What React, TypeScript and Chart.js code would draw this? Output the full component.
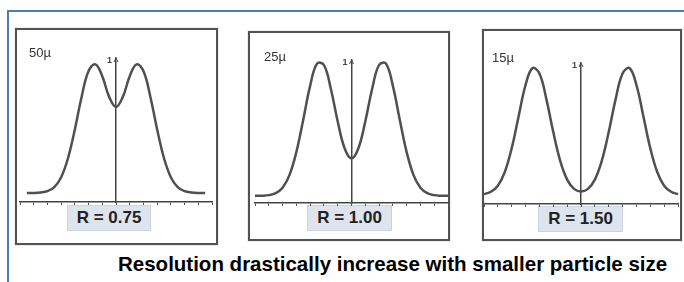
import React, { useEffect, useRef } from 'react';
import { Chart, registerables } from 'chart.js';

Chart.register(...registerables);
Chart.defaults.font.family = '"Liberation Sans", Arial, sans-serif';

// ---- data ----
const xNarrow = [-6.5, -6, -5.5, -5, -4.5, -4, -3.5, -3, -2.5, -2, -1.5, -1, -0.5, 0, 0.5, 1, 1.5, 2, 2.5, 3, 3.5, 4, 4.5, 5, 5.5, 6, 6.5];
const xWide = [-7, -6.5, -6, -5.5, -5, -4.5, -4, -3.5, -3, -2.5, -2, -1.5, -1, -0.5, 0, 0.5, 1, 1.5, 2, 2.5, 3, 3.5, 4, 4.5, 5, 5.5, 6, 6.5, 7];

const signal50 = [0.063, 0.063, 0.066, 0.075, 0.103, 0.172, 0.304, 0.504, 0.733, 0.909, 0.956, 0.874, 0.73, 0.66, 0.73, 0.874, 0.956, 0.909, 0.733, 0.504, 0.304, 0.172, 0.103, 0.075, 0.066, 0.063, 0.063];
const signal25 = [0.05, 0.051, 0.055, 0.069, 0.107, 0.195, 0.356, 0.583, 0.819, 0.975, 0.965, 0.799, 0.57, 0.383, 0.312, 0.383, 0.57, 0.799, 0.965, 0.975, 0.819, 0.583, 0.356, 0.195, 0.107, 0.069, 0.055, 0.051, 0.05];
const signal15 = [0.07, 0.087, 0.13, 0.227, 0.396, 0.623, 0.844, 0.964, 0.925, 0.744, 0.51, 0.306, 0.173, 0.107, 0.089, 0.107, 0.173, 0.306, 0.51, 0.744, 0.925, 0.964, 0.844, 0.623, 0.396, 0.227, 0.13, 0.087, 0.07];

const panelLabels = ['50µ', '25µ', '15µ'];
const resolutionLabels = ['R = 0.75', 'R = 1.00', 'R = 1.50'];
const axisTopLabel = '1';
const axisMin = -7;
const axisMax = 7;
const caption = 'Resolution drastically increase with smaller particle size';

// ---- layout ----
type Pad = { left: number; right: number; top: number; bottom: number };
type PanelLayout = {
  left: number; top: number; width: number; height: number; pad: Pad;
  labelLeft: number; labelTop: number; boxLeft: number; boxWidth: number; boxTop: number; boxHeight: number;
};

const layouts: PanelLayout[] = [
  { left: 15, top: 28, width: 203, height: 217, pad: { left: 5, right: 6, top: 30, bottom: 40 }, labelLeft: 29, labelTop: 46, boxLeft: 67, boxWidth: 84, boxTop: 205, boxHeight: 26 },
  { left: 248, top: 31, width: 202, height: 210, pad: { left: 7, right: 2, top: 29, bottom: 35 }, labelLeft: 264, labelTop: 50, boxLeft: 307, boxWidth: 85, boxTop: 205, boxHeight: 26 },
  { left: 482, top: 29, width: 200, height: 212, pad: { left: 2, right: 4, top: 34, bottom: 34 }, labelLeft: 492, labelTop: 51, boxLeft: 538, boxWidth: 85, boxTop: 206, boxHeight: 26 },
];

const series = [
  { xs: xNarrow, ys: signal50 },
  { xs: xWide, ys: signal25 },
  { xs: xWide, ys: signal15 },
];

const topMarkPlugin = {
  id: 'topMark',
  afterDraw(chart: any) {
    const { ctx, chartArea, scales } = chart;
    const x0 = scales.x.getPixelForValue(0);
    const top = chartArea.top;
    ctx.save();
    ctx.fillStyle = '#444';
    ctx.font = 'bold 9px "Liberation Sans", Arial, sans-serif';
    ctx.textAlign = 'right';
    ctx.textBaseline = 'middle';
    ctx.fillText(axisTopLabel, x0 - 4, top + 3);
    ctx.strokeStyle = '#444';
    ctx.lineWidth = 1;
    ctx.beginPath();
    ctx.moveTo(x0 - 2, top + 4);
    ctx.lineTo(x0, top);
    ctx.lineTo(x0 + 2, top + 4);
    ctx.stroke();
    ctx.restore();
  },
};

function PeakChart({ xs, ys, layout }: { xs: number[]; ys: number[]; layout: PanelLayout }) {
  const ref = useRef<HTMLCanvasElement>(null);
  useEffect(() => {
    const chart = new Chart(ref.current as HTMLCanvasElement, {
      type: 'line',
      data: {
        datasets: [
          {
            data: xs.map((x, i) => ({ x, y: ys[i] })),
            borderColor: '#505050',
            borderWidth: 2.5,
            pointRadius: 0,
            tension: 0.4,
            fill: false,
            clip: false as any,
          },
        ],
      },
      options: {
        animation: false,
        responsive: false,
        maintainAspectRatio: false,
        events: [],
        layout: { padding: layout.pad },
        plugins: { legend: { display: false }, title: { display: false }, tooltip: { enabled: false } },
        scales: {
          x: {
            type: 'linear',
            min: axisMin,
            max: axisMax,
            position: 'bottom',
            ticks: { display: false, stepSize: 1 },
            grid: { display: true, drawOnChartArea: false, drawTicks: true, tickLength: 3, color: '#555', lineWidth: 1 },
            border: { display: true, color: '#444', width: 1.5 },
          },
          y: {
            type: 'linear',
            min: 0,
            max: 1,
            position: { x: 0 } as any,
            ticks: { display: false },
            grid: { display: false },
            border: { display: true, color: '#444', width: 1.5 },
          },
        },
      },
      plugins: [topMarkPlugin],
    } as any);
    return () => chart.destroy();
  }, []);
  return (
    <canvas
      ref={ref}
      width={layout.width}
      height={layout.height}
      style={{ position: 'absolute', left: layout.left, top: layout.top, width: layout.width, height: layout.height }}
    />
  );
}

export default function App() {
  return (
    <div style={{ position: 'fixed', left: 0, top: 0, width: 684, height: 282, background: '#fff', overflow: 'hidden', fontFamily: '"Liberation Sans", Arial, sans-serif' }}>
      <div style={{ position: 'absolute', left: 7, top: 10, width: 720, height: 320, borderTop: '2px solid #4a7ebb', borderLeft: '2px solid #4a7ebb' }} />
      {layouts.map((l, i) => (
        <React.Fragment key={i}>
          <div style={{ position: 'absolute', left: l.left, top: l.top, width: l.width, height: l.height, boxSizing: 'border-box', border: '2px solid #525252', boxShadow: '0 0 1px #999' }} />
          <div style={{ position: 'absolute', left: l.boxLeft, top: l.boxTop, width: l.boxWidth, height: l.boxHeight, boxSizing: 'border-box', background: '#dde4ee', border: '1px solid #c9d3e1', display: 'flex', alignItems: 'center', justifyContent: 'center', fontWeight: 'bold', fontSize: 17, color: '#222', whiteSpace: 'nowrap' }}>
            {resolutionLabels[i]}
          </div>
          <PeakChart xs={series[i].xs} ys={series[i].ys} layout={l} />
          <div style={{ position: 'absolute', left: l.labelLeft, top: l.labelTop, fontSize: 13, lineHeight: '13px', color: '#333', whiteSpace: 'nowrap' }}>
            {panelLabels[i]}
          </div>
        </React.Fragment>
      ))}
      <div style={{ position: 'absolute', left: 118, top: 252, fontSize: 20.5, lineHeight: '23px', fontWeight: 'bold', color: '#000', whiteSpace: 'nowrap' }}>
        {caption}
      </div>
    </div>
  );
}
